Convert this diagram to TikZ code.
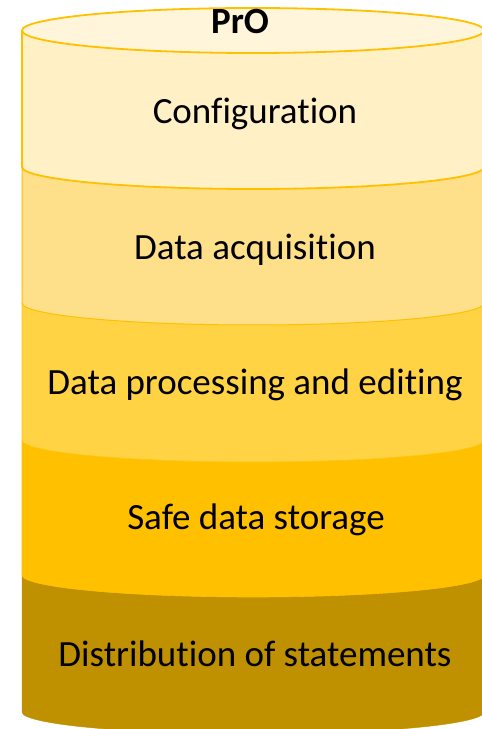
\documentclass[tikz,border=0pt]{standalone}
\usepackage{fontspec}
\setmainfont{Carlito}[Ligatures={NoCommon}]
\definecolor{rim}{HTML}{FFC000}
\definecolor{topcap}{HTML}{FFF5DA}
\definecolor{configfill}{HTML}{FFF0C6}
\definecolor{acqfill}{HTML}{FFE08A}
\definecolor{procfill}{HTML}{FFD343}
\definecolor{storefill}{HTML}{FFC000}
\definecolor{distfill}{HTML}{BF9000}
% one slice of the cylinder: side tops at #1, side bottoms at #2
\newcommand\cylslice[4]{%
  \filldraw[fill=#3, draw=#4]
    (\cx-\rx,#1) -- (\cx-\rx,#2)
    arc[start angle=180, end angle=360, x radius=\rx, y radius=\ry]
    -- (\cx+\rx,#1);}
\tikzset{
  layertext/.style={anchor=base, font=\fontsize{37}{42}\selectfont, text=black, inner sep=0pt},
}
\begin{document}
\begin{tikzpicture}[x=1pt,y=1pt]
\useasboundingbox (0,0) rectangle (482,729);
\clip (0,0) rectangle (482,729);
\def\cx{253}\def\rx{231}\def\ry{22}
% slices, bottom first so each one covers the top of the one below
\cylslice{154}{17}{distfill}{distfill}
\begin{scope}[line width=0.6]
\cylslice{289}{154}{storefill}{storefill}
\cylslice{426}{289}{procfill}{rim!70!procfill}
\end{scope}
\begin{scope}[line width=1]
\cylslice{562}{426}{acqfill}{rim}
\end{scope}
\begin{scope}[line width=1.8]
\cylslice{698}{562}{configfill}{rim}
\filldraw[fill=topcap, draw=rim] (\cx,698.5) ellipse[x radius=\rx, y radius=22.5];
\end{scope}
% labels
\node[layertext, font=\fontsize{37}{42}\selectfont\bfseries] (title) at (240,695) {PrO};
\node[layertext] (config) at (255,605) {Configuration};
\node[layertext] (acq) at (255,469) {Data acquisition};
\node[layertext] (proc) at (255,334) {Data processing and editing};
\node[layertext] (store) at (256,199) {Safe data storage};
\node[layertext] (dist) at (255,62) {Distribution of statements};
\end{tikzpicture}
\end{document}
